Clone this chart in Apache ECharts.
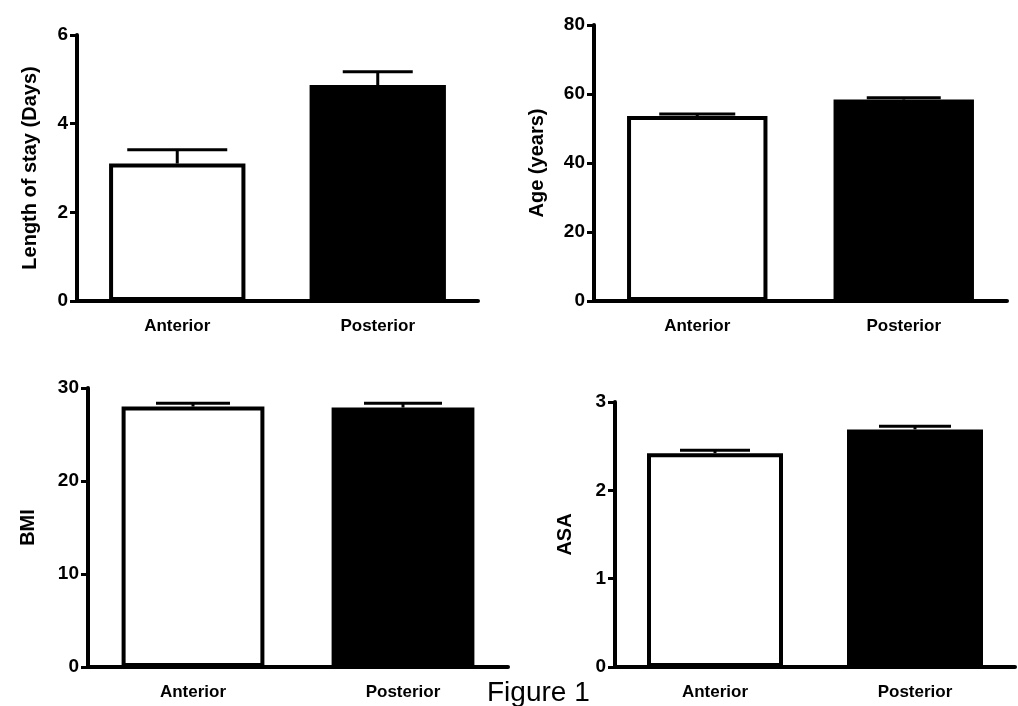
<!DOCTYPE html>
<html>
<head>
<meta charset="utf-8">
<script src="https://cdn.jsdelivr.net/npm/echarts@6/dist/echarts.min.js"></script>
<style>
html,body{margin:0;padding:0;background:#fff;}
#c{width:1018px;height:706px;}
</style>
</head>
<body>
<div id="c"></div>
<script>
// ---- data ----
var categories = ['Anterior', 'Posterior'];
var losMean = [3.1, 4.87];
var losErr  = [0.31, 0.30];
var ageMean = [53.6, 58.4];
var ageErr  = [0.6, 0.5];
var bmiMean = [28.0, 27.9];
var bmiErr  = [0.35, 0.45];
var asaMean = [2.42, 2.69];
var asaErr  = [0.035, 0.035];
var axisNames = ['Length of stay (Days)', 'Age (years)', 'BMI', 'ASA'];
var yMax = [6, 80, 30, 3];
var yInterval = [2, 20, 10, 1];
var figureLabel = 'Figure 1';

// ---- layout / style ----
var FONT = 'Liberation Sans, Arial, sans-serif';
var grids = [
  {left: 77,  right: 540, top: 35,  bottom: 405},
  {left: 594, right: 11,  top: 25,  bottom: 405},
  {left: 88,  right: 510, top: 388, bottom: 39},
  {left: 615, right: 3,   top: 402, bottom: 39}
];
var nameGaps = [37, 47, 50, 40];
var capHalf = [[50, 35], [38, 37], [37, 39], [35, 36]];
var means = [losMean, ageMean, bmiMean, asaMean];
var errs = [losErr, ageErr, bmiErr, asaErr];

var xAxes = [], yAxes = [], series = [];
for (var i = 0; i < 4; i++) {
  xAxes.push({
    gridIndex: i, type: 'category', data: categories,
    axisLine: {lineStyle: {color: '#000', width: 4}},
    axisTick: {alignWithLabel: true, length: 10, lineStyle: {color: '#000', width: 4}},
    axisLabel: {color: '#000', fontSize: 17, fontWeight: 'bold', fontFamily: FONT, margin: 17}
  });
  yAxes.push({
    gridIndex: i, type: 'value', min: 0, max: yMax[i], interval: yInterval[i],
    name: axisNames[i], nameLocation: 'middle', nameGap: nameGaps[i],
    nameTextStyle: {color: '#000', fontSize: 20, fontWeight: 'bold', fontFamily: FONT},
    axisLine: {show: true, lineStyle: {color: '#000', width: 4}},
    axisTick: {show: true, length: 7, lineStyle: {color: '#000', width: 3}},
    axisLabel: {color: '#000', fontSize: 19, fontWeight: 'bold', fontFamily: FONT, margin: 9},
    splitLine: {show: false}
  });
  series.push({
    type: 'bar', xAxisIndex: i, yAxisIndex: i, barWidth: '68%',
    data: means[i].map(function (v, k) {
      return {
        value: v,
        itemStyle: k === 0
          ? {color: '#fff', borderColor: '#000', borderWidth: 4}
          : {color: '#000', borderColor: '#000', borderWidth: 4}
      };
    }),
    silent: true
  });
  (function (idx) {
    series.push({
      type: 'custom', xAxisIndex: idx, yAxisIndex: idx, silent: true, z: 5,
      data: means[idx].map(function (v, k) { return [k, v, v + errs[idx][k]]; }),
      renderItem: function (params, api) {
        var k = api.value(0);
        var p0 = api.coord([k, api.value(1)]);
        var p1 = api.coord([k, api.value(2)]);
        var hw = capHalf[idx][k];
        return {
          type: 'group',
          children: [
            {type: 'line', shape: {x1: p0[0], y1: p0[1], x2: p1[0], y2: p1[1]}, style: {stroke: '#000', lineWidth: 3}},
            {type: 'line', shape: {x1: p1[0] - hw, y1: p1[1], x2: p1[0] + hw, y2: p1[1]}, style: {stroke: '#000', lineWidth: 3}}
          ]
        };
      }
    });
  })(i);
}

var chart = echarts.init(document.getElementById('c'), null, {renderer: 'canvas'});
chart.setOption({
  backgroundColor: '#fff',
  animation: false,
  grid: grids,
  xAxis: xAxes,
  yAxis: yAxes,
  series: series,
  graphic: [{
    type: 'text', left: 487, top: 679, z: 10,
    style: {text: figureLabel, fontSize: 28, fontFamily: FONT, fill: '#000'}
  }]
});
</script>
</body>
</html>
